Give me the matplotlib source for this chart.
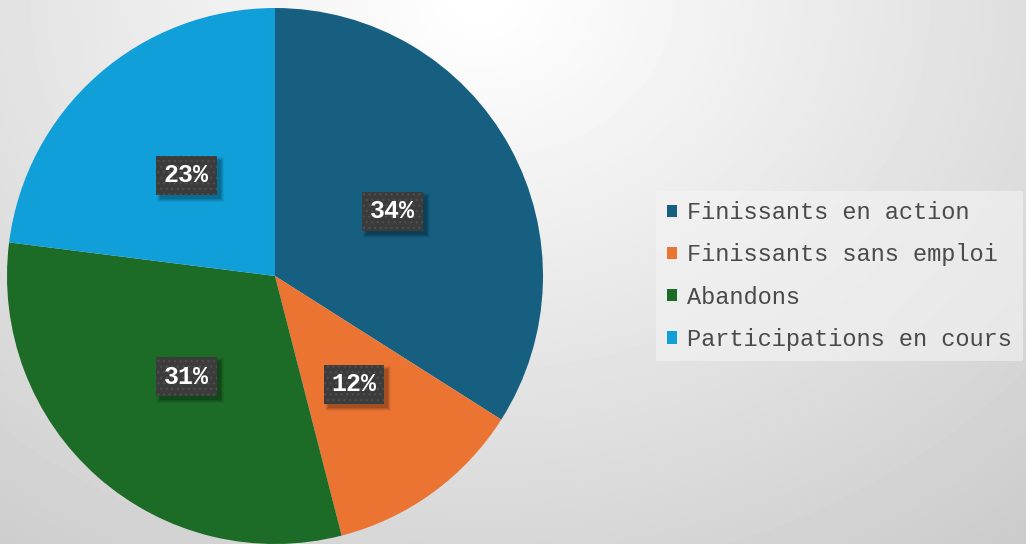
import numpy as np
import matplotlib
matplotlib.use("Agg")
import matplotlib.pyplot as plt
from matplotlib.patches import Rectangle

# ---- data ----
categories = ["Finissants en action", "Finissants sans emploi", "Abandons", "Participations en cours"]
values = [34, 12, 31, 23]
colors = ["#175f81", "#ec7433", "#1c6b26", "#109fd8"]

W, H = 1026, 544
fig = plt.figure(figsize=(W / 100, H / 100), dpi=100)
ax = fig.add_axes([0, 0, 1, 1])

# background radial gradient
yy, xx = np.mgrid[0:H, 0:W]
d = np.sqrt(((xx - 480) / 1.0) ** 2 + ((yy - 0) / 0.82) ** 2)
bg = np.clip(256 - 0.062 * d, 195, 255)
ax.imshow(bg, extent=(0, W, 0, H), cmap="gray", vmin=0, vmax=255,
          origin="upper", zorder=0, interpolation="bilinear")

wedges, texts, autotexts = ax.pie(
    values, colors=colors, startangle=90, counterclock=False,
    center=(275, H - 276), radius=268, frame=True,
    autopct="%.0f%%", pctdistance=0.5,
    wedgeprops=dict(linewidth=0),
    textprops=dict(family="Liberation Mono", fontsize=18, fontweight="bold",
                   color="white", zorder=6),
)

for t in autotexts:
    t.set_bbox(dict(boxstyle="square,pad=0.31", facecolor="#3b3b3b",
                    edgecolor="#4d4d4d", linewidth=0, hatch="..."))

ax.set_xlim(0, W)
ax.set_ylim(0, H)
ax.set_aspect("equal")
ax.axis("off")

# soft shadows behind label boxes
fig.canvas.draw()
inv = ax.transData.inverted()
for t in autotexts:
    ext = t.get_bbox_patch().get_window_extent()
    (x0, y0), (x1, y1) = inv.transform([[ext.x0, ext.y0], [ext.x1, ext.y1]])
    for k, a in [(5, 0.05), (4, 0.07), (3, 0.10), (2, 0.12)]:
        ax.add_patch(Rectangle((x0 + 4 - k + 2, y0 - 4 - k + 2), (x1 - x0) + 2 * (k - 2),
                               (y1 - y0) + 2 * (k - 2), facecolor="black",
                               alpha=a, linewidth=0, zorder=3))

leg = ax.legend(
    wedges, categories, loc="center left",
    bbox_to_anchor=(656 / W, (H - 276) / H), bbox_transform=ax.transAxes,
    borderaxespad=0, frameon=True, fancybox=False,
    prop=dict(family="Liberation Mono", size=17),
    labelcolor="#4a4a4a", handlelength=0.45, handleheight=0.45,
    handletextpad=0.42, labelspacing=0.81, borderpad=0.45,
)
fr = leg.get_frame()
fr.set_facecolor("#f4f4f4")
fr.set_alpha(0.6)
fr.set_linewidth(0)

fig.savefig("out.png", dpi=100)
